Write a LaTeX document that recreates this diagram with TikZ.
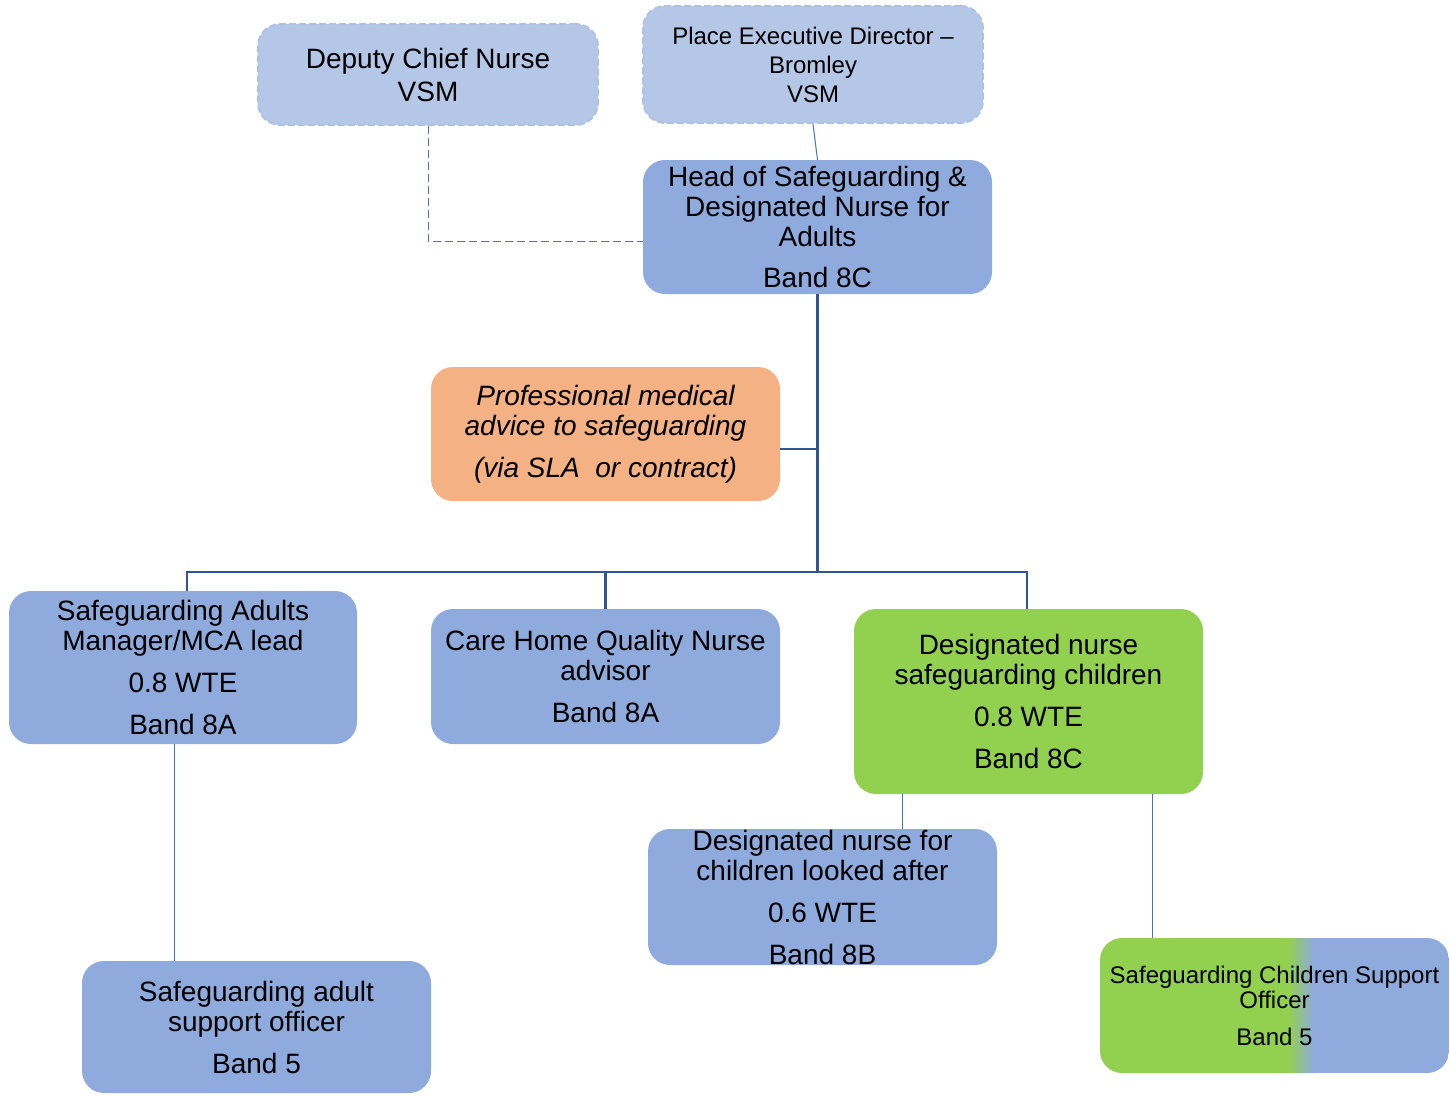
\documentclass[tikz,border=0pt]{standalone}
\usepackage{fontspec}
\setmainfont{Liberation Sans}
\definecolor{paleblue}{HTML}{B4C7E7}
\definecolor{midblue}{HTML}{8FAADC}
\definecolor{peach}{HTML}{F4B183}
\definecolor{leaf}{HTML}{92D050}
\definecolor{linkblue}{HTML}{2F5597}
\definecolor{thinblue}{HTML}{4472C4}

\begin{document}
\begin{tikzpicture}[x=1pt, y=-1pt,
    box/.style = {rounded corners=22pt, align=center, inner sep=0pt, font=\fontsize{28}{30}\selectfont},
    role/.style = {box, fill=midblue},
    vsm/.style = {box, fill=paleblue, draw=paleblue!80!midblue, dash pattern=on 7pt off 3pt, line width=1.8pt},
    trunk/.style = {draw=linkblue, line width=3.5pt},
    bus/.style = {draw=linkblue, line width=2.5pt},
    link/.style = {draw=thinblue, line width=1pt}]
    \useasboundingbox (0,0) rectangle (1450,1095);
    % top row
    \node[vsm, minimum width=340pt, minimum height=101pt] (dcn) at (428,74.5) {Deputy Chief Nurse\\[3pt]VSM};
    \node[vsm, minimum width=340pt, minimum height=117pt, font=\fontsize{24}{29}\selectfont] (ped) at (813,64.5) {Place Executive Director –\\Bromley\\VSM};
    \node[role, minimum width=349pt, minimum height=134pt] (head) at (817.5,227) {Head of Safeguarding \&\\Designated Nurse for\\Adults\\[11pt]Band 8C};
    \node[box, fill=peach, minimum width=349pt, minimum height=134pt, font=\fontsize{28}{30}\selectfont\itshape] (med) at (605.5,434) {Professional medical\\advice to safeguarding\\[12pt](via SLA\ \ or contract)};
    % second row
    \node[role, minimum width=348pt, minimum height=153pt] (sam) at (183,667.5) {Safeguarding Adults\\Manager/MCA lead\\[12pt]0.8 WTE\\[12pt]Band 8A};
    \node[role, minimum width=349pt, minimum height=135pt] (chq) at (605.5,676.5) {Care Home Quality Nurse\\advisor\\[12pt]Band 8A};
    \node[box, fill=leaf, minimum width=349pt, minimum height=185pt] (dnsc) at (1028.5,701.5) {Designated nurse\\safeguarding children\\[12pt]0.8 WTE\\[12pt]Band 8C};
    % third row
    \node[role, minimum width=349pt, minimum height=136pt] (dnla) at (822.5,897) {Designated nurse for\\children looked after\\[12pt]0.6 WTE\\[12pt]Band 8B};
    \node[role, minimum width=349pt, minimum height=132pt] (saso) at (256.5,1027) {Safeguarding adult\\support officer\\[12pt]Band 5};
    \node[box, minimum width=349pt, minimum height=135pt, font=\fontsize{24}{25}\selectfont,
        path picture={
            \fill[leaf, sharp corners] (path picture bounding box.south west) rectangle ([xshift=190pt]path picture bounding box.north west);
            \shade[left color=leaf, right color=midblue, sharp corners] ([xshift=188pt]path picture bounding box.south west) rectangle ([xshift=214pt]path picture bounding box.north west);
            \fill[midblue, sharp corners] ([xshift=212pt]path picture bounding box.south west) rectangle (path picture bounding box.north east);
        }] (scso) at (1274.5,1005.5) {Safeguarding Children Support\\Officer\\[12pt]Band 5};
    % connectors
    \coordinate (joint) at (817.5,572);
    \draw[link, dash pattern=on 8pt off 4pt] (dcn.south) |- ([yshift=-14pt]head.west);
    \draw[link] (ped.south) -- (head.north);
    \draw[trunk] (head.south) -- (joint);
    \draw[bus] ([xshift=4pt]sam.north) |- (joint);
    \draw[bus] (chq.north) |- (joint);
    \draw[bus] ([xshift=-1.5pt]dnsc.north) |- (joint);
    \draw[bus] ([yshift=-15pt]med.east) -- ([yshift=-15pt]med.east -| joint);
    \draw[link] ([xshift=-9pt]sam.south) -- ([xshift=-9pt]sam.south |- saso.north);
    \draw[link] ([xshift=80pt]dnla.north) -- ([xshift=80pt]dnla.north |- dnsc.south);
    \draw[link] ([xshift=124pt]dnsc.south) -- ([xshift=124pt]dnsc.south |- scso.north);
\end{tikzpicture}
\end{document}
